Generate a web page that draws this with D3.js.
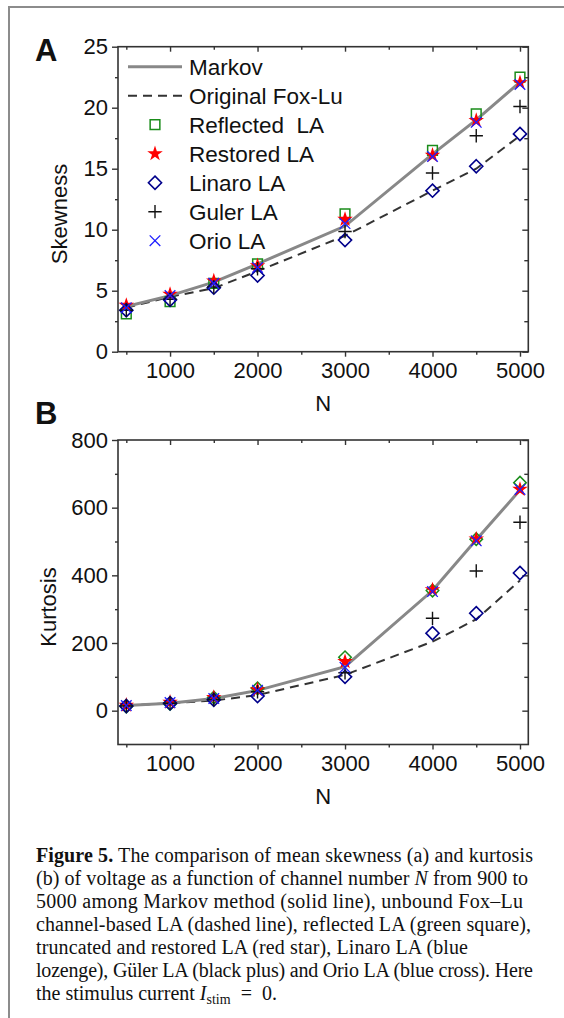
<!DOCTYPE html>
<html>
<head>
<meta charset="utf-8">
<script src="https://cdn.jsdelivr.net/npm/d3@7"></script>
<style>
  html, body { margin: 0; padding: 0; background: #fff; }
  svg { display: block; }
  .tick text { font-family: "Liberation Sans", Arial, sans-serif; }
</style>
</head>
<body>
<div id="chart"></div>
<script>
// channel numbers N
const nValues = [500, 1000, 1500, 2000, 3000, 4000, 4500, 5000];

// panel A: skewness
const skewMarkov    = [3.7, 4.6, 5.7, 7.2, 10.3, 16.2, 19.0, 22.1];
const skewFoxLu     = [3.6, 4.5, 5.2, 6.6, 9.5, 13.2, 15.0, 17.7];
const skewReflected = [3.1, 4.1, 5.6, 7.2, 11.3, 16.5, 19.5, 22.5];
const skewRestored  = [3.8, 4.7, 5.8, 7.05, 10.85, 16.1, 18.95, 22.05];
const skewLinaro    = [3.4, 4.25, 5.25, 6.25, 9.15, 13.2, 15.2, 17.85];
const skewGuler     = [3.4, 4.3, 5.3, 6.8, 9.85, 14.65, 17.7, 20.1];
const skewOrio      = [3.6, 4.6, 5.6, 6.9, 10.5, 16.0, 18.8, 21.9];

// panel B: kurtosis
const kurtMarkov    = [15, 22, 36, 60, 130, 355, 505, 652];
const kurtFoxLu     = [15, 22, 30, 46, 106, 204, 270, 385];
const kurtReflected = [12, 20, 39, 66, 158, 355, 507, 674];
const kurtRestored  = [16, 25, 39, 62, 145, 357, 507, 654];
const kurtLinaro    = [14, 22, 32, 43, 100, 229, 288, 407];
const kurtGuler     = [14, 22, 33, 56, 112, 273, 413, 557];
const kurtOrio      = [15, 24, 36, 60, 128, 352, 502, 654];

// ticks
const xMajorTicks = [1000, 2000, 3000, 4000, 5000];
const xMinorTicks = [500, 1500, 2500, 3500, 4500];
const skewMajorTicks = [0, 5, 10, 15, 20, 25];
const skewMinorTicks = [2.5, 7.5, 12.5, 17.5, 22.5];
const kurtMajorTicks = [0, 200, 400, 600, 800];
const kurtMinorTicks = [-100, 100, 300, 500, 700];

const legendLabels = ["Markov", "Original Fox-Lu", "Reflected  LA", "Restored LA", "Linaro LA", "Guler LA", "Orio LA"];

// caption lines: parts and the width each line takes in the figure
const captionLines = [
  [["Figure 5.", "bold"], [" The comparison of mean skewness (a) and kurtosis", ""]],
  [["(b) of voltage as a function of channel number ", ""], ["N", "italic"], [" from 900 to", ""]],
  [["5000 among Markov method (solid line), unbound Fox\u2013Lu", ""]],
  [["channel-based LA (dashed line), reflected LA (green square),", ""]],
  [["truncated and restored LA (red star), Linaro LA (blue", ""]],
  [["lozenge), G\u00fcler LA (black plus) and Orio LA (blue cross). Here", ""]]
];
const captionWidths = [497, 492, 487, 495, 432, 497];

const width = 564, height = 1018;
const sansFont = "'Liberation Sans', Arial, Helvetica, sans-serif";

const svg = d3.select("#chart").append("svg")
  .attr("width", width)
  .attr("height", height)
  .attr("viewBox", `0 0 ${width} ${height}`);

svg.append("rect").attr("width", width).attr("height", height).attr("fill", "#fff");

// outer frame (top and left edges visible)
svg.append("path")
  .attr("d", `M9,${height} V7 H${width}`)
  .attr("fill", "none")
  .attr("stroke", "#8c8c8c")
  .attr("stroke-width", 2);

const x = d3.scaleLinear().domain([405, 5095]).range([118, 528.3]);

const symbols = {
  square: { type: d3.symbolSquare2, size: 120, fill: "none", stroke: "#1a8c1a", width: 1.5 },
  diamondGreen: { type: d3.symbolDiamond2, size: 100, fill: "none", stroke: "#1a8c1a", width: 1.5 },
  star: { type: d3.symbolStar, size: 75, fill: "#ff0000", stroke: "none", width: 0 },
  diamond: { type: d3.symbolDiamond2, size: 110, fill: "none", stroke: "#00008b", width: 1.6 },
  plus: { type: d3.symbolPlus, size: 60, fill: "none", stroke: "#111", width: 1.4 },
  times: { type: d3.symbolTimes, size: 75, fill: "none", stroke: "#1f1fff", width: 1.3 }
};

function drawSymbol(g, cfg, px, py) {
  g.append("path")
    .attr("d", d3.symbol().type(cfg.type).size(cfg.size)())
    .attr("transform", `translate(${px},${py})`)
    .attr("fill", cfg.fill)
    .attr("stroke", cfg.stroke)
    .attr("stroke-width", cfg.width);
}

function drawPanel(p) {
  const g = svg.append("g");
  const y = d3.scaleLinear().domain(p.yDomain).range([p.bottom, p.top]);
  const left = x.range()[0], right = x.range()[1];

  // axes: left/bottom outward, top/right inward
  const styleAxis = (sel) => {
    sel.select(".domain").remove();
    sel.selectAll("line").attr("stroke", "#333").attr("stroke-width", 1.4);
    sel.selectAll("text").attr("fill", "#111").attr("font-size", 22);
  };

  g.append("g").attr("transform", `translate(0,${p.bottom})`)
    .call(d3.axisBottom(x).tickValues(xMajorTicks).tickSize(5).tickPadding(6).tickFormat(d3.format("d")))
    .call(styleAxis);
  g.append("g").attr("transform", `translate(0,${p.bottom})`)
    .call(d3.axisBottom(x).tickValues(xMinorTicks).tickSize(3).tickFormat(""))
    .call(styleAxis);
  g.append("g").attr("transform", `translate(0,${p.top})`)
    .call(d3.axisTop(x).tickValues(xMajorTicks).tickSize(-5).tickFormat(""))
    .call(styleAxis);
  g.append("g").attr("transform", `translate(0,${p.top})`)
    .call(d3.axisTop(x).tickValues(xMinorTicks).tickSize(-3).tickFormat(""))
    .call(styleAxis);

  g.append("g").attr("transform", `translate(${left},0)`)
    .call(d3.axisLeft(y).tickValues(p.yMajor).tickSize(6).tickPadding(4))
    .call(styleAxis);
  g.append("g").attr("transform", `translate(${left},0)`)
    .call(d3.axisLeft(y).tickValues(p.yMinor.filter(v => v > p.yDomain[0])).tickSize(3).tickFormat(""))
    .call(styleAxis);
  g.append("g").attr("transform", `translate(${right},0)`)
    .call(d3.axisRight(y).tickValues(p.yMajor).tickSize(-6).tickFormat(""))
    .call(styleAxis);
  g.append("g").attr("transform", `translate(${right},0)`)
    .call(d3.axisRight(y).tickValues(p.yMinor.filter(v => v > p.yDomain[0])).tickSize(-4).tickFormat(""))
    .call(styleAxis);

  g.append("rect")
    .attr("x", left).attr("y", p.top)
    .attr("width", right - left).attr("height", p.bottom - p.top)
    .attr("fill", "none").attr("stroke", "#333").attr("stroke-width", 1.6);

  // lines
  const line = d3.line().x((d, i) => x(nValues[i])).y(d => y(d));
  g.append("path").attr("d", line(p.foxLu))
    .attr("fill", "none").attr("stroke", "#333").attr("stroke-width", 2)
    .attr("stroke-dasharray", "9,6");
  g.append("path").attr("d", line(p.markov))
    .attr("fill", "none").attr("stroke", "#888").attr("stroke-width", 3);

  // markers
  p.series.forEach(s => {
    s.values.forEach((v, i) => drawSymbol(g, symbols[s.symbol], x(nValues[i]), y(v)));
  });

  // labels
  g.append("text")
    .attr("x", 35).attr("y", p.letterY)
    .attr("font-family", sansFont).attr("font-weight", "bold").attr("font-size", 31)
    .attr("fill", "#111").text(p.letter);
  g.append("text")
    .attr("transform", `translate(${p.yLabelX},${p.yLabelY}) rotate(-90)`)
    .attr("text-anchor", "middle")
    .attr("font-family", sansFont).attr("font-size", 22).attr("fill", "#111")
    .text(p.yLabel);
  g.append("text")
    .attr("x", (left + right) / 2).attr("y", p.bottom + 59)
    .attr("text-anchor", "middle")
    .attr("font-family", sansFont).attr("font-size", 22).attr("fill", "#111")
    .text("N");

  return g;
}

const panelA = drawPanel({
  top: 46.7, bottom: 351.7, yDomain: [0, 25],
  yMajor: skewMajorTicks, yMinor: skewMinorTicks,
  markov: skewMarkov, foxLu: skewFoxLu,
  series: [
    { values: skewReflected, symbol: "square" },
    { values: skewRestored, symbol: "star" },
    { values: skewLinaro, symbol: "diamond" },
    { values: skewGuler, symbol: "plus" },
    { values: skewOrio, symbol: "times" }
  ],
  letter: "A", letterY: 61, yLabel: "Skewness", yLabelX: 67, yLabelY: 214
});

drawPanel({
  top: 440, bottom: 744.5, yDomain: [-100, 800],
  yMajor: kurtMajorTicks, yMinor: kurtMinorTicks,
  markov: kurtMarkov, foxLu: kurtFoxLu,
  series: [
    { values: kurtReflected, symbol: "diamondGreen" },
    { values: kurtRestored, symbol: "star" },
    { values: kurtLinaro, symbol: "diamond" },
    { values: kurtGuler, symbol: "plus" },
    { values: kurtOrio, symbol: "times" }
  ],
  letter: "B", letterY: 424, yLabel: "Kurtosis", yLabelX: 56, yLabelY: 607
});

// legend for panel A
const legend = panelA.append("g");
const legendSymbols = [null, null, "square", "star", "diamond", "plus", "times"];
legendLabels.forEach((label, i) => {
  const ly = 66.7 + i * 29;
  if (i === 0) {
    legend.append("line").attr("x1", 128).attr("x2", 182).attr("y1", ly).attr("y2", ly)
      .attr("stroke", "#888").attr("stroke-width", 3);
  } else if (i === 1) {
    legend.append("line").attr("x1", 128).attr("x2", 182).attr("y1", ly).attr("y2", ly)
      .attr("stroke", "#333").attr("stroke-width", 2).attr("stroke-dasharray", "9,6");
  } else {
    drawSymbol(legend, symbols[legendSymbols[i]], 155, ly);
  }
  legend.append("text")
    .attr("x", 189).attr("y", ly + 7.9)
    .attr("font-family", sansFont).attr("font-size", 22.5).attr("fill", "#111")
    .style("white-space", "pre")
    .text(label);
});

// caption
const caption = svg.append("g")
  .attr("font-family", "'Liberation Serif', 'Times New Roman', serif")
  .attr("font-size", 20)
  .attr("fill", "#111");

captionLines.forEach((parts, i) => {
  const t = caption.append("text")
    .attr("x", 36).attr("y", 862 + i * 23)
    .attr("textLength", captionWidths[i])
    .attr("lengthAdjust", "spacing");
  parts.forEach(([str, style]) => {
    const ts = t.append("tspan").text(str);
    if (style === "bold") ts.attr("font-weight", "bold");
    if (style === "italic") ts.attr("font-style", "italic");
  });
});

const last = caption.append("text").attr("x", 36).attr("y", 862 + 6 * 23);
last.append("tspan").text("the stimulus current ");
last.append("tspan").attr("font-style", "italic").text("I");
last.append("tspan").attr("font-size", 14).attr("dy", 4).text("stim");
last.append("tspan").attr("dy", -4).style("white-space", "pre").text("  =  0.");
</script>
</body>
</html>
